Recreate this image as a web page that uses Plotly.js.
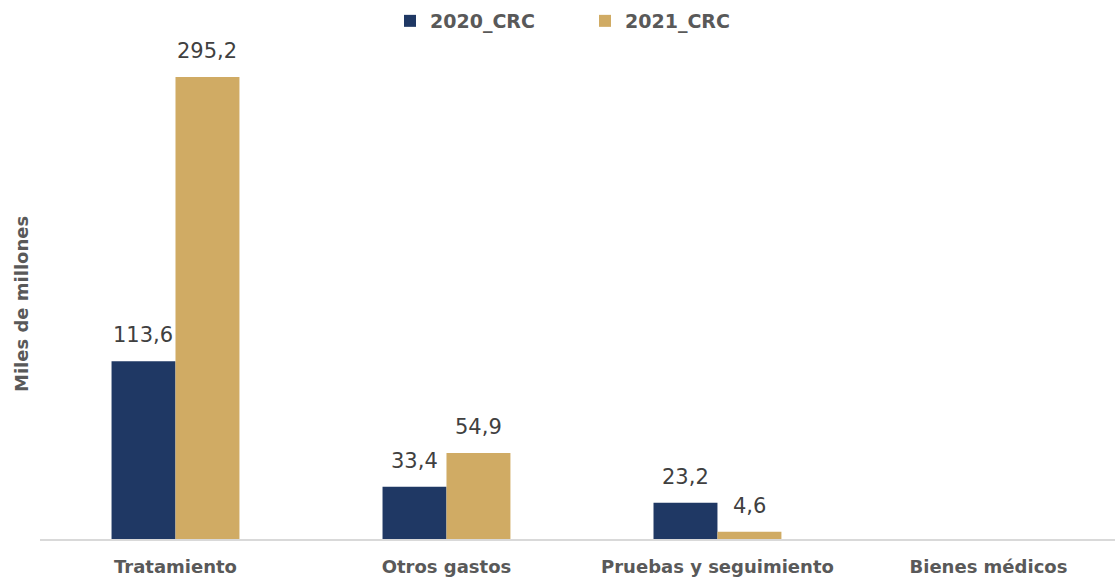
<!DOCTYPE html>
<html><head><meta charset="utf-8">
<script src="https://cdn.plot.ly/plotly-3.0.1.min.js"></script>
<style>body{margin:0;padding:0;background:#fff}#chart{width:1115px;height:578px}</style>
</head><body><div id="chart"></div>
<script>
const categories = ["Tratamiento", "Otros gastos", "Pruebas y seguimiento", "Bienes médicos"];
const series2020 = [113.6, 33.4, 23.2, null];
const series2021 = [295.2, 54.9, 4.6, null];
const seriesNames = ["2020_CRC", "2021_CRC"];
const yTitle = "Miles de millones";
const fmt = v => v.toFixed(1).replace(".", ",");

const traces = [
  {type: "bar", name: seriesNames[0], x: categories, y: series2020, marker: {color: "#1F3864"}},
  {type: "bar", name: seriesNames[1], x: categories, y: series2021, marker: {color: "#D0AB64"}}
];
const annotations = [];
[[series2020, -32], [series2021, 32]].forEach(([vals, dx]) => {
  vals.forEach((v, i) => {
    if (v == null) return;
    annotations.push({x: categories[i], y: v, xref: "x", yref: "y", text: fmt(v), showarrow: false,
      xshift: dx, yshift: 12, yanchor: "bottom",
      font: {family: "DejaVu Sans", size: 21, color: "#404040"}});
  });
});
annotations.push({text: yTitle, xref: "paper", yref: "paper", x: -0.0167, y: 0.471,
  xanchor: "center", yanchor: "middle", textangle: -90, showarrow: false,
  font: {family: "DejaVu Sans", size: 18, color: "#595959", weight: "bold"}});
const layout = {
  width: 1115, height: 578,
  margin: {l: 40, r: 0, t: 40, b: 39},
  paper_bgcolor: "#fff", plot_bgcolor: "#fff",
  barmode: "group", bargap: 0.528, bargroupgap: 0,
  font: {family: "DejaVu Sans", color: "#595959"},
  showlegend: true,
  legend: {orientation: "h", x: 0.507, xanchor: "center", y: 1.0, yanchor: "bottom",
           font: {family: "DejaVu Sans", size: 19, color: "#595959", weight: "bold"},
           itemwidth: 30, entrywidth: 150, entrywidthmode: "pixels"},
  annotations: annotations,
  xaxis: {type: "category", range: [-0.5, 3.467], showline: true, linecolor: "#D9D9D9", linewidth: 2,
          ticks: "", showgrid: false, zeroline: false, ticklabelstandoff: 10,
          tickfont: {family: "DejaVu Sans", size: 18, color: "#595959", weight: "bold"}},
  yaxis: {range: [0, 318.8], showticklabels: false, showgrid: false, zeroline: false, showline: false, ticks: ""}
};
Plotly.newPlot("chart", traces, layout, {displayModeBar: false});
</script></body></html>
